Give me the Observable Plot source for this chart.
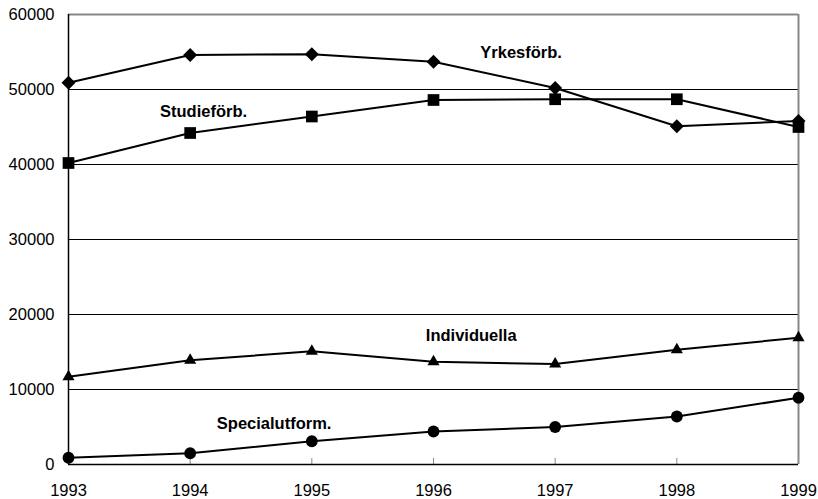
<!DOCTYPE html>
<html>
<head>
<meta charset="utf-8">
<script src="https://cdn.jsdelivr.net/npm/d3@7"></script>
<script src="https://cdn.jsdelivr.net/npm/@observablehq/plot@0.6"></script>
<style>
  html, body { margin: 0; padding: 0; background: #fff; }
  #chart svg { display: block; }
</style>
</head>
<body>
<div id="chart"></div>
<script>
const years = [1993, 1994, 1995, 1996, 1997, 1998, 1999];
const yrkesforb = [50900, 54600, 54700, 53700, 50200, 45100, 45800];
const studieforb = [40200, 44200, 46400, 48600, 48700, 48700, 45000];
const individuella = [11700, 13900, 15100, 13700, 13400, 15300, 16900];
const specialutform = [900, 1500, 3100, 4400, 5000, 6400, 8900];
const yTicks = [0, 10000, 20000, 30000, 40000, 50000, 60000];
const labels = [
  {text: "Yrkesförb.", x: 1996.72, y: 54900},
  {text: "Studieförb.", x: 1994.11, y: 47000},
  {text: "Individuella", x: 1996.31, y: 17150},
  {text: "Specialutform.", x: 1994.69, y: 5420}
];

const rows = (vals) => years.map((yr, i) => ({year: yr, value: vals[i]}));
const font = "'Liberation Sans', Arial, sans-serif";

const series = [
  {data: rows(yrkesforb), symbol: "diamond2", r: 6.3},
  {data: rows(studieforb), symbol: "square", r: 6.6},
  {data: rows(individuella), symbol: "triangle", r: 4.5},
  {data: rows(specialutform), symbol: "circle", r: 5.9}
];

const marks = [
  Plot.ruleY(yTicks.filter(d => d > 0 && d < 60000), {stroke: "#000", strokeWidth: 1}),
  Plot.ruleY([60000], {stroke: "#888", strokeWidth: 2}),
  Plot.ruleX([years[years.length - 1]], {stroke: "#888", strokeWidth: 2}),
  Plot.tickX(years, {x: d => d, insetTop: 444, stroke: "#888", strokeWidth: 1}),
  Plot.ruleX([years[0]], {stroke: "#000", strokeWidth: 1.5}),
  Plot.ruleY([0], {stroke: "#000", strokeWidth: 1.5}),
  Plot.axisY({ticks: yTicks, tickFormat: "d", tickSize: 0, tickPadding: 14, fontSize: 16.5, fontFamily: font, fill: "#000"}),
  Plot.axisX({ticks: years, tickFormat: "d", tickSize: 0, tickPadding: 20, fontSize: 16.5, fontFamily: font, fill: "#000"})
];
for (const s of series) {
  marks.push(Plot.line(s.data, {x: "year", y: "value", stroke: "#000", strokeWidth: 2}));
  marks.push(Plot.dot(s.data, {x: "year", y: "value", symbol: () => s.symbol, r: s.r, fill: "#000", stroke: "none"}));
}
marks.push(Plot.text(labels, {x: "x", y: "y", text: "text", fontWeight: "bold", fontSize: 16.5, fontFamily: font, fill: "#000", textAnchor: "middle"}));

const chart = Plot.plot({
  width: 818,
  height: 499,
  marginLeft: 68,
  marginRight: 20,
  marginTop: 14,
  marginBottom: 35,
  style: {fontFamily: font, background: "#fff", overflow: "visible"},
  x: {domain: [1993, 1999]},
  y: {domain: [0, 60000]},
  symbol: {type: "identity"},
  marks
});
document.getElementById("chart").append(chart);
</script>
</body>
</html>
